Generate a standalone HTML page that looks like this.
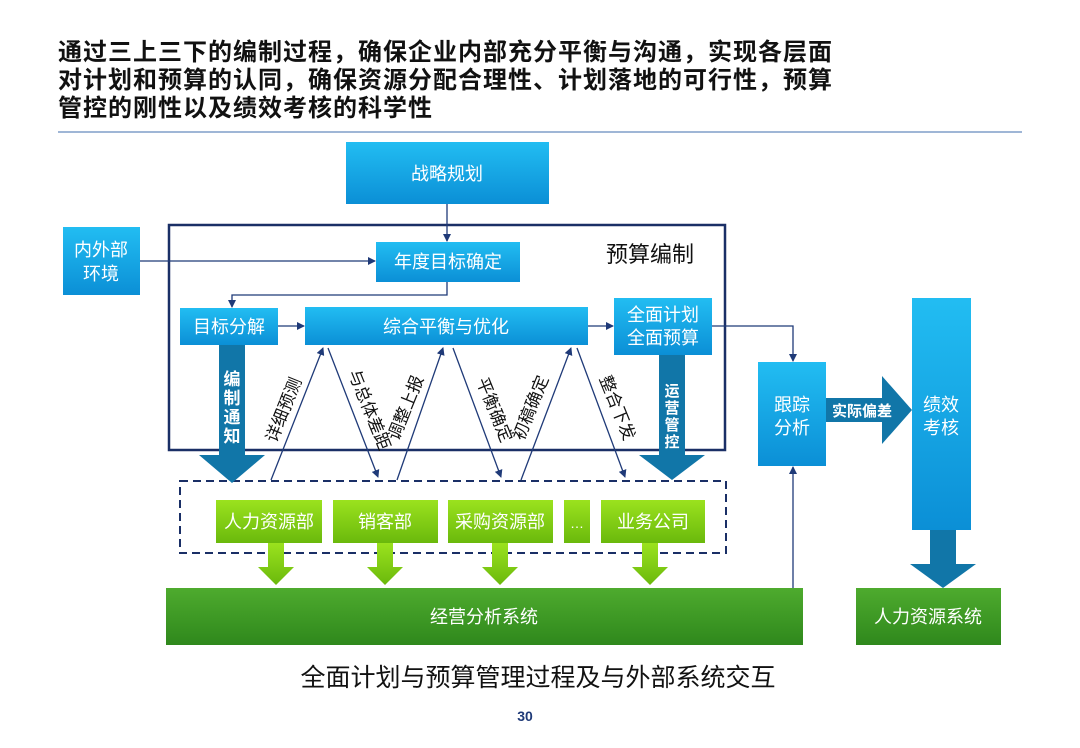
<!DOCTYPE html>
<html><head><meta charset="utf-8"><style>
body{margin:0;background:#fff;}
svg{display:block;font-family:"Liberation Sans","Noto Sans CJK SC",sans-serif;}
</style></head><body>
<svg width="1080" height="748" viewBox="0 0 1080 748" xmlns="http://www.w3.org/2000/svg">
<defs>
<linearGradient id="bl" x1="0" y1="0" x2="0" y2="1"><stop offset="0" stop-color="#22bdf2"/><stop offset="1" stop-color="#0b8fd6"/></linearGradient>
<linearGradient id="gr" x1="0" y1="0" x2="0" y2="1"><stop offset="0" stop-color="#9be21e"/><stop offset="1" stop-color="#6ab90c"/></linearGradient>
<linearGradient id="dg" x1="0" y1="0" x2="0" y2="1"><stop offset="0" stop-color="#4eab2e"/><stop offset="1" stop-color="#2f881c"/></linearGradient>
<marker id="ah" markerWidth="8" markerHeight="8" refX="7" refY="4" orient="auto" markerUnits="userSpaceOnUse"><path d="M0,0 L8,4 L0,8 z" fill="#1f3a78"/></marker>
</defs>
<g font-weight="bold" font-size="24" fill="#111" letter-spacing="1">
<text x="58" y="60">通过三上三下的编制过程，确保企业内部充分平衡与沟通，实现各层面</text>
<text x="58" y="88">对计划和预算的认同，确保资源分配合理性、计划落地的可行性，预算</text>
<text x="58" y="116">管控的刚性以及绩效考核的科学性</text>
</g>
<line x1="58" y1="132" x2="1022" y2="132" stroke="#9fb6d6" stroke-width="2"/>

<rect x="169" y="225" width="556" height="225" fill="none" stroke="#1a2f66" stroke-width="2.5"/>
<text x="650" y="262" font-size="22" text-anchor="middle" fill="#111">预算编制</text>
<rect x="180" y="481" width="546" height="72" fill="none" stroke="#1a2f66" stroke-width="2" stroke-dasharray="8,5"/>

<g fill="url(#bl)">
<rect x="346" y="142" width="203" height="62"/>
<rect x="63" y="227" width="77" height="68"/>
<rect x="376" y="242" width="144" height="40"/>
<rect x="180" y="308" width="98" height="37"/>
<rect x="305" y="307" width="283" height="38"/>
<rect x="614" y="298" width="98" height="57"/>
<rect x="758" y="362" width="68" height="104"/>
<rect x="912" y="298" width="59" height="232"/>
</g>
<g fill="#fff" font-size="18" text-anchor="middle">
<text x="447" y="180">战略规划</text>
<text x="101" y="256">内外部</text><text x="101" y="280">环境</text>
<text x="448" y="268">年度目标确定</text>
<text x="229" y="333">目标分解</text>
<text x="446" y="333">综合平衡与优化</text>
<text x="663" y="321">全面计划</text><text x="663" y="344">全面预算</text>
<text x="792" y="411">跟踪</text><text x="792" y="434">分析</text>
<text x="941" y="411">绩效</text><text x="941" y="434">考核</text>
</g>

<g fill="url(#gr)">
<rect x="216" y="500" width="106" height="43"/>
<rect x="333" y="500" width="105" height="43"/>
<rect x="448" y="500" width="105" height="43"/>
<rect x="564" y="500" width="26" height="43"/>
<rect x="601" y="500" width="104" height="43"/>
<path d="M268,543h16v24h10l-18,18l-18,-18h10z"/>
<path d="M377,543h16v24h10l-18,18l-18,-18h10z"/>
<path d="M492,543h16v24h10l-18,18l-18,-18h10z"/>
<path d="M642,543h16v24h10l-18,18l-18,-18h10z"/>
</g>
<g fill="#fff" font-size="18" text-anchor="middle">
<text x="269" y="528">人力资源部</text>
<text x="385" y="528">销客部</text>
<text x="500" y="528">采购资源部</text>
<text x="577" y="528" font-size="14">…</text>
<text x="653" y="528">业务公司</text>
</g>
<rect x="166" y="588" width="637" height="57" fill="url(#dg)"/>
<rect x="856" y="588" width="145" height="57" fill="url(#dg)"/>
<g fill="#fff" font-size="18" text-anchor="middle">
<text x="484" y="623">经营分析系统</text>
<text x="928" y="623">人力资源系统</text>
</g>

<g fill="#1176a8">
<path d="M219,345h26v110h20l-33,28l-33,-28h20z"/>
<path d="M659,355h26v100h20l-33,25l-33,-25h20z"/>
<path d="M826,398h56v-22l30,34l-30,34v-22h-56z"/>
<path d="M930,530h26v34h20l-33,24l-33,-24h20z"/>
</g>
<g fill="#fff" font-weight="bold" text-anchor="middle">
<g font-size="17"><text x="232" y="385">编</text><text x="232" y="404">制</text><text x="232" y="423">通</text><text x="232" y="442">知</text></g>
<g font-size="15"><text x="672" y="396">运</text><text x="672" y="413">营</text><text x="672" y="430">管</text><text x="672" y="447">控</text></g>
<text x="862" y="416" font-size="15">实际偏差</text>
</g>

<g stroke="#1f3a78" stroke-width="1.3" fill="none" marker-end="url(#ah)">
<path d="M447,204V241"/>
<path d="M140,261H375"/>
<path d="M447,282V295H232V307"/>
<path d="M278,326H304"/>
<path d="M588,326H613"/>
<path d="M712,326H793V361"/>
<path d="M793,588V467"/>
<path d="M271,480L323,348"/>
<path d="M328,348L378,477"/>
<path d="M397,480L443,348"/>
<path d="M453,348L501,477"/>
<path d="M521,480L571,348"/>
<path d="M577,348L625,477"/>
</g>
<g font-size="17" fill="#111" text-anchor="middle">
<text transform="translate(289,412) rotate(-68)">详细预测</text>
<text transform="translate(364,412) rotate(68)">与总体差距</text>
<text transform="translate(411,410) rotate(-68)">调整上报</text>
<text transform="translate(489,412) rotate(68)">平衡确定</text>
<text transform="translate(536,410) rotate(-68)">初稿确定</text>
<text transform="translate(612,410) rotate(68)">整合下发</text>
</g>

<text x="538" y="686" font-size="25" text-anchor="middle" fill="#111">全面计划与预算管理过程及与外部系统交互</text>
<text x="525" y="721" font-size="14" font-weight="bold" text-anchor="middle" fill="#1f3a78">30</text>
</svg>
</body></html>
